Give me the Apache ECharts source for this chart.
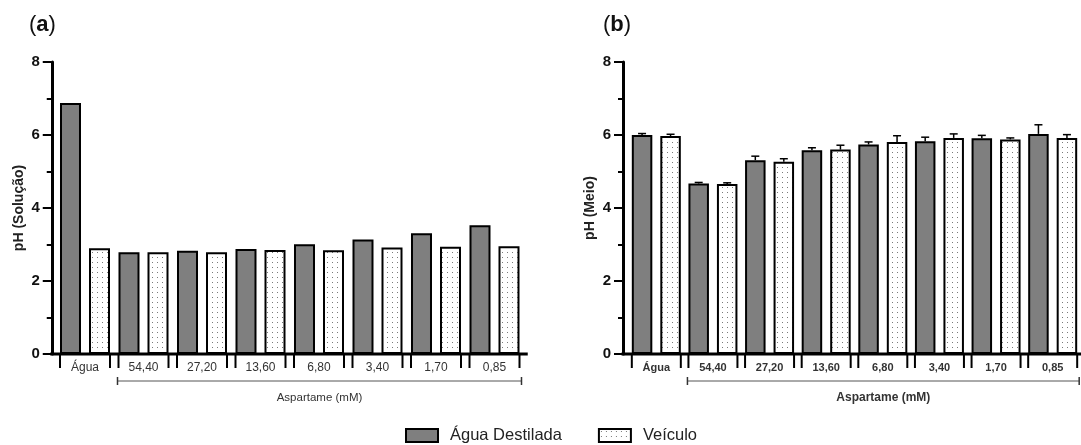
<!DOCTYPE html>
<html>
<head>
<meta charset="utf-8">
<script src="https://cdn.jsdelivr.net/npm/echarts@6/dist/echarts.min.js"></script>
<style>
html,body{margin:0;padding:0;background:#fff;}
#chart{width:1081px;height:445px;}
</style>
</head>
<body>
<div id="chart"></div>
<script>
// ---- data ----
var categories = ['Água', '54,40', '27,20', '13,60', '6,80', '3,40', '1,70', '0,85'];
var yTicks = [0, 2, 4, 6, 8];
// panel (a) pH (Solução)
var solAgua = [6.88, 2.79, 2.83, 2.88, 3.01, 3.14, 3.31, 3.53];
var solVeiculo = [2.90, 2.79, 2.79, 2.85, 2.84, 2.92, 2.94, 2.95];
// panel (b) pH (Meio) with SD
var meioAgua = [6.00, 4.67, 5.31, 5.58, 5.74, 5.83, 5.91, 6.03];
var meioAguaErr = [0.04, 0.03, 0.11, 0.07, 0.07, 0.11, 0.08, 0.25];
var meioVeiculo = [5.97, 4.66, 5.27, 5.60, 5.81, 5.92, 5.88, 5.92];
var meioVeiculoErr = [0.05, 0.03, 0.08, 0.12, 0.17, 0.11, 0.04, 0.09];
var seriesNames = ['Água Destilada', 'Veículo'];
var groupName = 'Aspartame (mM)';

// ---- style ----
var FONT = 'Liberation Sans, Arial, sans-serif';
var GRAY = '#7f7f7f';
var cv = document.createElement('canvas');
cv.width = 5; cv.height = 5;
var cx = cv.getContext('2d');
cx.fillStyle = '#ffffff'; cx.fillRect(0, 0, 5, 5);
cx.fillStyle = '#7a7a7a'; cx.fillRect(2, 2, 1, 1);
var DOTS = { image: cv, repeat: 'repeat' };

var panels = [
  { left: 55.75, width: 468, yOff: 4, barW: 21, gap: 8, bold: false, lblSize: 12, grpSize: 11.5, name: 'pH (Solução)' },
  { left: 628, width: 457.6, yOff: 5, barW: 20.5, gap: 8, bold: true, lblSize: 11, grpSize: 12, name: 'pH (Meio)' }
];

var chart = echarts.init(document.getElementById('chart'), null, { renderer: 'canvas' });

function grids() {
  return panels.map(function (p) {
    return { left: p.left, width: p.width, top: 62, height: 292, containLabel: false };
  });
}
function xAxes() {
  return panels.map(function (p, i) {
    return {
      type: 'category', gridIndex: i, data: categories,
      axisLine: { show: false }, axisTick: { show: false },
      axisLabel: { interval: 0, margin: 8, fontFamily: FONT, fontSize: p.lblSize, color: '#333',
        fontWeight: p.bold ? 'bold' : 'normal' }
    };
  });
}
function yAxes() {
  return panels.map(function (p, i) {
    return {
      type: 'value', gridIndex: i, min: yTicks[0], max: yTicks[yTicks.length - 1], interval: 2,
      offset: p.yOff,
      name: p.name, nameLocation: 'middle', nameGap: 26, nameRotate: 90,
      nameTextStyle: { fontFamily: FONT, fontSize: 14, fontWeight: 'bold', color: '#222' },
      axisLine: { show: true, lineStyle: { color: '#000', width: 3 } },
      axisTick: { show: true, length: 9, lineStyle: { color: '#000', width: 2 } },
      minorTick: { show: true, splitNumber: 2, length: 5, lineStyle: { color: '#000', width: 2 } },
      splitLine: { show: false },
      axisLabel: { margin: 12, fontFamily: FONT, fontSize: 15, fontWeight: 'bold', color: '#111' }
    };
  });
}

function frameRender(p) {
  return function (params, api) {
    var band = api.size([1, 0])[0];
    var o0 = api.coord([0, 0]);
    var o7 = api.coord([categories.length - 1, 0]);
    var y0 = o0[1];
    var half = p.barW + p.gap / 2;
    var ch = [];
    // baseline
    ch.push({ type: 'line', shape: { x1: o0[0] - band / 2 - p.yOff - 1.5, y1: y0, x2: o7[0] + band / 2 + p.yOff, y2: y0 },
      style: { stroke: '#000', lineWidth: 3 } });
    // group ticks
    for (var i = 0; i < categories.length; i++) {
      var c = api.coord([i, 0]);
      ch.push({ type: 'line', shape: { x1: c[0] - half, y1: y0, x2: c[0] - half, y2: y0 + 14 }, style: { stroke: '#000', lineWidth: 2 } });
      ch.push({ type: 'line', shape: { x1: c[0] + half, y1: y0, x2: c[0] + half, y2: y0 + 14 }, style: { stroke: '#000', lineWidth: 2 } });
    }
    // bracket
    var b1 = api.coord([1, 0])[0] - half - 1;
    var b2 = o7[0] + half + 2;
    var by = y0 + 27;
    ch.push({ type: 'line', shape: { x1: b1, y1: by, x2: b2, y2: by }, style: { stroke: '#555', lineWidth: 1 } });
    ch.push({ type: 'line', shape: { x1: b1, y1: by - 4, x2: b1, y2: by + 4 }, style: { stroke: '#333', lineWidth: 1.5 } });
    ch.push({ type: 'line', shape: { x1: b2, y1: by - 4, x2: b2, y2: by + 4 }, style: { stroke: '#333', lineWidth: 1.5 } });
    ch.push({ type: 'text', style: { x: (b1 + b2) / 2, y: y0 + 44, text: groupName, align: 'center', verticalAlign: 'middle',
      font: (p.bold ? 'bold ' : '') + p.grpSize + 'px ' + FONT, fill: '#333' } });
    return { type: 'group', children: ch };
  };
}

function errRender(p, sign) {
  return function (params, api) {
    var v = api.value(1), e = api.value(2);
    var c = api.coord([api.value(0), v]);
    var t = api.coord([api.value(0), v + e]);
    var x = c[0] + sign * (p.barW + p.gap) / 2;
    return { type: 'group', children: [
      { type: 'line', shape: { x1: x, y1: c[1], x2: x, y2: t[1] }, style: { stroke: '#000', lineWidth: 1.5 } },
      { type: 'line', shape: { x1: x - 4, y1: t[1], x2: x + 4, y2: t[1] }, style: { stroke: '#000', lineWidth: 1.5 } }
    ] };
  };
}

function barSeries(name, idx, data, fill, p) {
  return {
    name: name, type: 'bar', xAxisIndex: idx, yAxisIndex: idx, data: data,
    barWidth: p.barW, barGap: (p.gap / p.barW * 100).toFixed(1) + '%',
    itemStyle: { color: fill, borderColor: '#000', borderWidth: 2 },
    emphasis: { disabled: true }, z: 2
  };
}

var series = [];
var sets = [[solAgua, solVeiculo, null, null], [meioAgua, meioVeiculo, meioAguaErr, meioVeiculoErr]];
panels.forEach(function (p, i) {
  series.push(barSeries(seriesNames[0], i, sets[i][0], GRAY, p));
  series.push(barSeries(seriesNames[1], i, sets[i][1], DOTS, p));
  series.push({ type: 'custom', xAxisIndex: i, yAxisIndex: i, clip: false, silent: true, z: 4,
    renderItem: frameRender(p), data: [[0, 0]] });
  if (sets[i][2]) {
    series.push({ type: 'custom', xAxisIndex: i, yAxisIndex: i, clip: false, silent: true, z: 5,
      renderItem: errRender(p, -1), data: categories.map(function (c, k) { return [k, sets[i][0][k], sets[i][2][k]]; }) });
    series.push({ type: 'custom', xAxisIndex: i, yAxisIndex: i, clip: false, silent: true, z: 5,
      renderItem: errRender(p, 1), data: categories.map(function (c, k) { return [k, sets[i][1][k], sets[i][3][k]]; }) });
  }
});

var titleRich = {
  n: { fontFamily: FONT, fontSize: 22, fontWeight: 'normal', color: '#111' },
  b: { fontFamily: FONT, fontSize: 22, fontWeight: 'bold', color: '#111' }
};

chart.setOption({
  animation: false,
  backgroundColor: '#fff',
  title: [
    { text: '{n|(}{b|a}{n|)}', left: 24, top: 9, textStyle: { rich: titleRich } },
    { text: '{n|(}{b|b}{n|)}', left: 598, top: 9, textStyle: { rich: titleRich } }
  ],
  legend: {
    data: seriesNames, left: 405, top: 427, padding: 0, itemWidth: 32, itemHeight: 13, itemGap: 36,
    icon: 'rect', selectedMode: false,
    textStyle: { fontFamily: FONT, fontSize: 16.5, color: '#222', padding: [0, 0, 0, 7] }
  },
  grid: grids(),
  xAxis: xAxes(),
  yAxis: yAxes(),
  series: series
});
</script>
</body>
</html>
